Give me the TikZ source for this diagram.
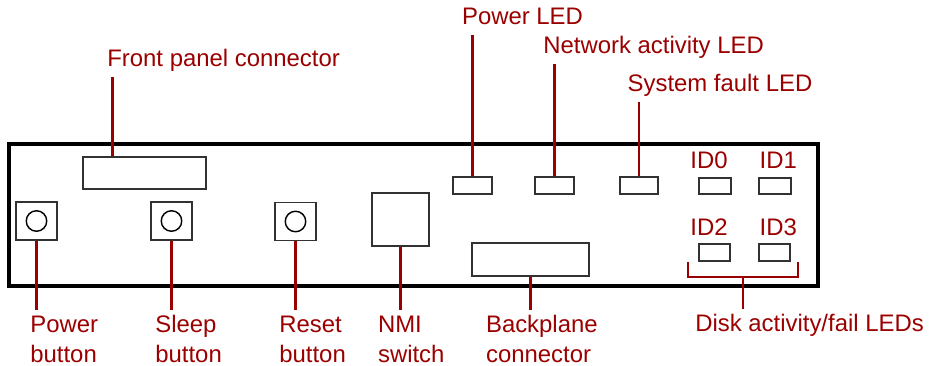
\documentclass[tikz,border=0pt]{standalone}
\usepackage{fontspec}
\setmainfont{Liberation Sans}
\usetikzlibrary{positioning,calc}
\definecolor{leadred}{RGB}{155,0,0}
\definecolor{partgray}{RGB}{50,50,50}

\begin{document}
\begin{tikzpicture}[
  chassis/.style={draw=black, line width=1.8pt, minimum width=16.18cm, minimum height=2.84cm, inner sep=0pt},
  part/.style={draw=partgray, line width=1.1pt, inner sep=0pt},
  led/.style={part, minimum width=0.77cm, minimum height=0.34cm},
  idled/.style={part, minimum width=0.63cm, minimum height=0.33cm},
  button/.style={part, minimum width=0.83cm, minimum height=0.76cm},
  note/.style={text=leadred, font=\fontsize{13.6}{17}\selectfont, anchor=base west, align=left, inner xsep=0pt, inner ysep=0.1cm, text height=0.34cm, text depth=0pt},
  upnote/.style={note, inner ysep=0.2cm},
  twonote/.style={note, text height=0.94cm},
  lead/.style={draw=leadred, line width=1.4pt}
]
\useasboundingbox (0,0) rectangle (18.6,7.3);

% chassis and its parts
\node[chassis] (panel) at (8.27,3.0) {};
\node[part, minimum width=2.46cm, minimum height=0.64cm] (fpc) at (2.89,3.84) {};
\node[button] (pwrbtn) at (0.73,2.88) {};
\node[button] (slpbtn) at (3.43,2.88) {};
\node[button] (rstbtn) at (5.91,2.87) {};
\foreach \b in {pwrbtn,slpbtn,rstbtn}
  \draw[draw=black, line width=0.8pt] (\b.center) circle (0.205);
\node[part, minimum width=1.15cm, minimum height=1.05cm] (nmi) at (8.01,2.91) {};
\node[led] (pwrled) at (9.45,3.59) {};
\node[led] (netled) at (11.09,3.59) {};
\node[led] (sysled) at (12.78,3.59) {};
\node[idled] (id0) at (14.30,3.58) {};
\node[idled] (id1) at (15.50,3.58) {};
\node[idled] (id2) at (14.29,2.25) {};
\node[idled] (id3) at (15.49,2.25) {};
\node[part, minimum width=2.33cm, minimum height=0.65cm] (bpc) at (10.61,2.11) {};

% labels
\node[upnote] (fpclbl) at (2.14,5.96) {Front panel connector};
\node[upnote] (pwrledlbl) at (9.234,6.80) {Power LED};
\node[upnote] (netledlbl) at (10.86,6.22) {Network activity LED};
\node[upnote] (sysledlbl) at (12.546,5.466) {System fault LED};
\node[note] (id0lbl) at (13.80,3.94) {ID0};
\node[note] (id1lbl) at (15.186,3.94) {ID1};
\node[note] (id2lbl) at (13.80,2.586) {ID2};
\node[note] (id3lbl) at (15.186,2.586) {ID3};
\node[twonote] (pwrbtnlbl) at (0.60,0.06) {Power\\button};
\node[twonote] (slpbtnlbl) at (3.10,0.06) {Sleep\\button};
\node[twonote] (rstbtnlbl) at (5.58,0.06) {Reset\\button};
\node[twonote] (nmilbl) at (7.554,0.06) {NMI\\switch};
\node[twonote] (bpclbl) at (9.714,0.06) {Backplane\\connector};
\node[note] (disklbl) at (13.90,0.666) {Disk activity/fail LEDs};

% leader lines
\coordinate (fpcpin) at ($(fpc.north west)!0.244!(fpc.north east)$);
\draw[lead] (fpcpin) -- (fpcpin |- fpclbl.south);
\draw[lead] (pwrled.north) -- (pwrled.north |- pwrledlbl.south);
\draw[lead] (netled.north) -- (netled.north |- netledlbl.south);
\draw[lead] (sysled.north) -- (sysled.north |- sysledlbl.south);
\draw[lead] (pwrbtn.south) -- (pwrbtn.south |- pwrbtnlbl.north);
\draw[lead] (slpbtn.south) -- (slpbtn.south |- slpbtnlbl.north);
\draw[lead] (rstbtn.south) -- (rstbtn.south |- rstbtnlbl.north);
\draw[lead] (nmi.south) -- (nmi.south |- nmilbl.north);
\draw[lead] (bpc.south) -- (bpc.south |- bpclbl.north);

% bracket over the disk LEDs
\coordinate (brl) at ($(id2.south west)+(-0.2,0)$);
\coordinate (brr) at ($(id3.south east)+(0.13,0)$);
\draw[lead] (brl) -- ++(0,-0.31) -| (brr);
\coordinate (brmid) at ($(brl)!0.5!(brr)+(0,-0.31)$);
\draw[lead] (brmid) -- (brmid |- disklbl.north);

\end{tikzpicture}
\end{document}
